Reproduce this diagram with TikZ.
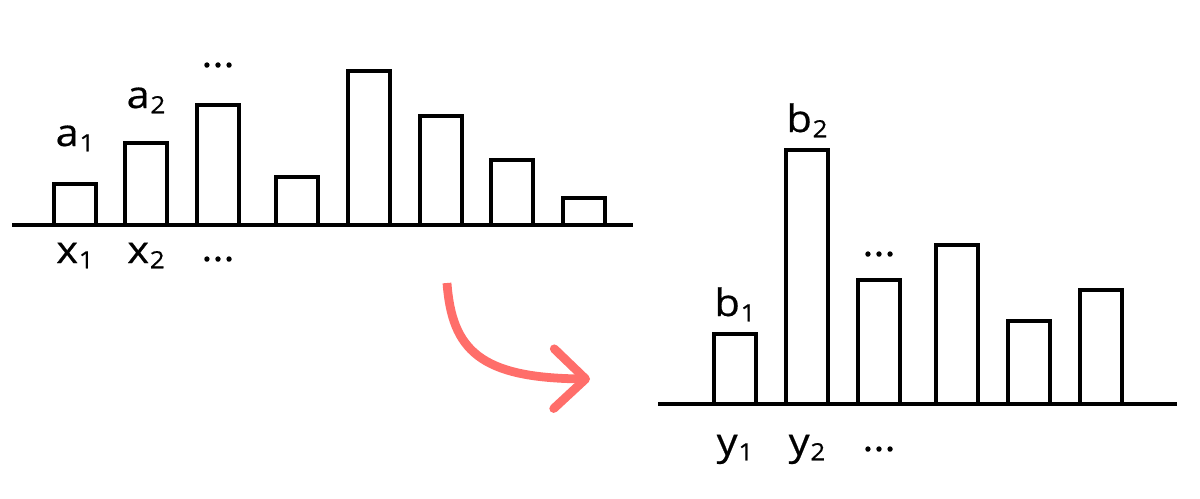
\documentclass[tikz,border=0pt]{standalone}
\usepackage{fontspec}
\setmainfont{Open Sans}[FakeBold=0.5, FakeStretch=1.1]
\usetikzlibrary{arrows.meta}
\definecolor{salmon}{RGB}{255,110,106}
\newcommand{\subs}[1]{\kern0.4pt\raisebox{-3pt}{\fontsize{13.5}{13.5}\selectfont #1}}
\begin{document}
\begin{tikzpicture}[x=0.02cm, y=-0.02cm, line width=2pt,
    lab/.style={font=\fontsize{21.5}{24}\selectfont, anchor=base, inner sep=0pt}]
    \useasboundingbox (0,0) rectangle (1200,498);
    % left chart
    \draw (12,225) -- (633,225);
    \foreach \xl/\h in {54/184,125/143,197/105,276/177,348/71,420/116,491/160,563/198}
        \draw (\xl,225) rectangle (\xl+42,\h);
    \node[lab] (a1) at (75,146) {a\subs{1}};
    \node[lab] (a2) at (146,108) {a\subs{2}};
    \node[lab] (ad) at (218,67) {...};
    \node[lab] (x1) at (75,263) {x\subs{1}};
    \node[lab] (x2) at (146,263) {x\subs{2}};
    \node[lab] (xd) at (218,261) {...};
    % right chart
    \draw (658,404) -- (1177,404);
    \foreach \xl/\h in {714/334,786/150,858/280,936/245,1008/321,1080/290}
        \draw (\xl,404) rectangle (\xl+42,\h);
    \node[lab] (b1) at (735,316) {b\subs{1}};
    \node[lab] (b2) at (807,132) {b\subs{2}};
    \node[lab] (bd) at (879,256) {...};
    \node[lab] (y1) at (735,455) {y\subs{1}};
    \node[lab] (y2) at (807,455) {y\subs{2}};
    \node[lab] (yd) at (879,451) {...};
    % arrow
    \coordinate (from) at (447,283);
    \coordinate (to) at (590,379);
    \draw[salmon, line width=5pt, -{Straight Barb[length=18pt,width=34pt,round]}]
        (from) .. controls (452,350) and (480,378) .. (to);
\end{tikzpicture}
\end{document}
